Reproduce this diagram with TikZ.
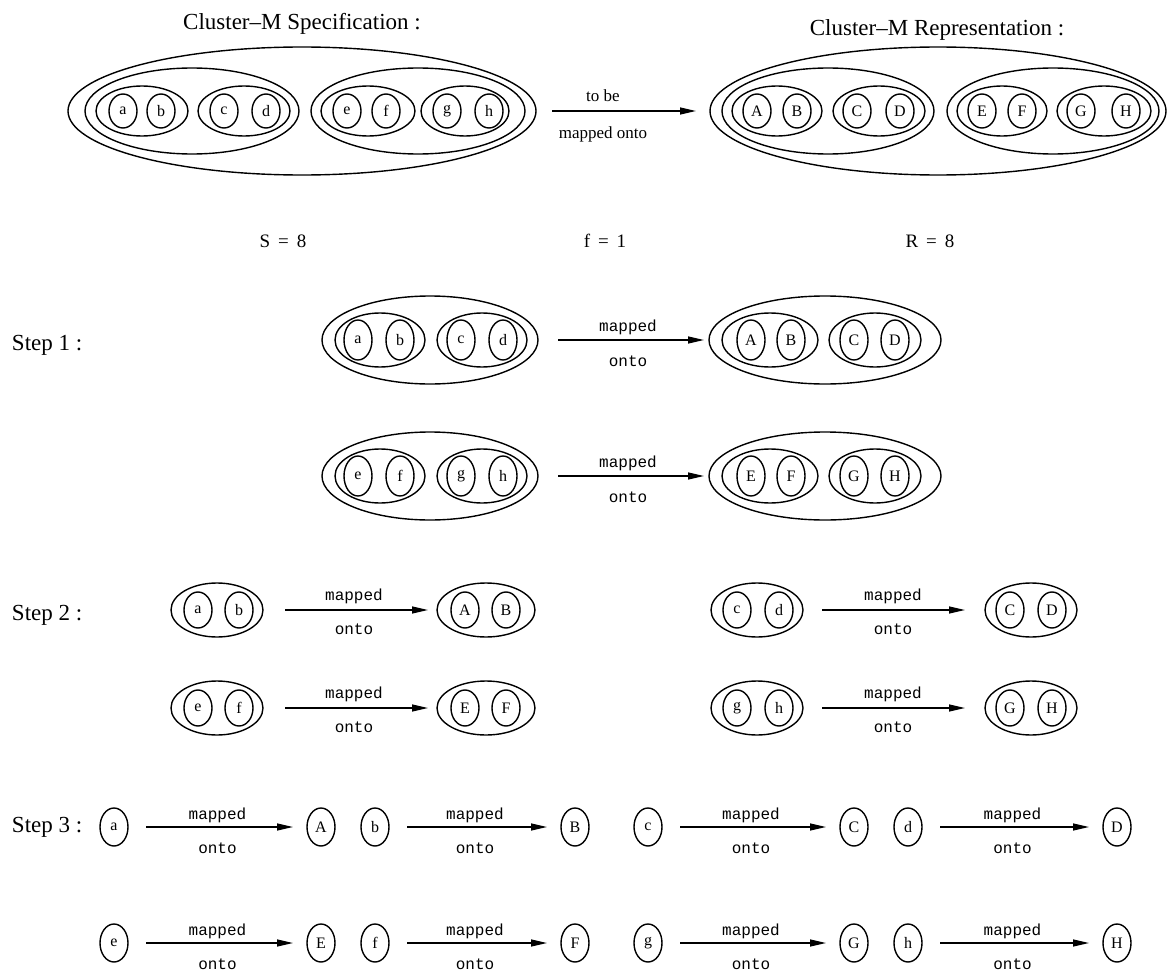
\documentclass[tikz,border=0pt]{standalone}
\usepackage{fontspec}
\setmainfont{Liberation Serif}
\newfontfamily\monofnt{Liberation Mono}
\usetikzlibrary{shapes.geometric,arrows.meta,calc}
\newcommand{\lw}[1]{\raisebox{-3pt}{#1}}
\begin{document}
\begin{tikzpicture}[x=1pt,y=-1pt,
  every node/.style={inner sep=0pt,outer sep=0pt},
  ell/.style={draw,ellipse,line width=1.4pt},
  leaf/.style={ell,font=\fontsize{16}{16}\selectfont},
  tleaf/.style={leaf,minimum width=28pt,minimum height=34pt},
  tpair/.style={ell,minimum width=92pt,minimum height=50pt},
  tquad/.style={ell,minimum width=214pt,minimum height=86pt},
  s1leaf/.style={leaf,minimum width=28pt,minimum height=40pt},
  s1pair/.style={ell,minimum width=90pt,minimum height=54pt},
  s2leaf/.style={leaf,minimum width=28pt,minimum height=36pt},
  s3leaf/.style={leaf,minimum width=28pt,minimum height=38pt},
  arr/.style={line width=1.4pt,-{Triangle[length=16pt,width=7pt]}},
  mlab/.style={font=\monofnt\fontsize{16}{16}\selectfont},
  slab/.style={font=\fontsize{17}{17}\selectfont},
  title/.style={font=\fontsize{23}{23}\selectfont},
  steplab/.style={font=\fontsize{23}{23}\selectfont,anchor=west},
  eqlab/.style={font=\fontsize{19}{19}\selectfont}]
\useasboundingbox (0,0) rectangle (1168,974);

% ---------- top: specification ----------
\node[title] (t1) at (302,24) {Cluster--M Specification :};
\node[ell,minimum width=468pt,minimum height=128pt] (Sout) at (302,111) {};
\node[tquad] (Sq1) at (192,111) {};
\node[tquad] (Sq2) at (418,111) {};
\node[tpair] (Sp1) at (142,111) {};
\node[tpair] (Sp2) at (244,111) {};
\node[tpair,minimum width=94pt] (Sp3) at (368,111) {};
\node[tpair,minimum width=88pt] (Sp4) at (465,111) {};
\foreach \n/\x in {a/123,b/161,c/224,d/266,e/347,f/386,g/447,h/489}
  \node[tleaf] (T\n) at (\x,111) {\lw{\n}};

% ---------- top: representation ----------
\node[title] (t2) at (937,30) {Cluster--M Representation :};
\node[ell,minimum width=456pt,minimum height=128pt] (Rout) at (938,111) {};
\node[tquad,minimum width=212pt] (Rq1) at (828,111) {};
\node[tquad,minimum width=212pt] (Rq2) at (1053,111) {};
\node[tpair,minimum width=90pt] (Rp1) at (777,111) {};
\node[tpair] (Rp2) at (879,111) {};
\node[tpair,minimum width=90pt] (Rp3) at (1002,111) {};
\node[tpair,minimum width=94pt] (Rp4) at (1104,111) {};
\foreach \n/\x in {A/757,B/797,C/857,D/900,E/982,F/1022,G/1081,H/1126}
  \node[tleaf] (T\n) at (\x,111) {\lw{\n}};

\draw[arr,shorten <=16pt,shorten >=14pt] (Sout) -- (Rout);
\node[slab] (tb) at (603,96) {to be};
\node[slab] (tmo) at (603,134) {mapped onto};

\node[eqlab] (eqS) at (283,241) {S\,\ =\ \,8};
\node[eqlab] (eqf) at (605,241) {f\,\ =\ \,1};
\node[eqlab] (eqR) at (930,241) {R\,\ =\ \,8};

% ---------- step 1 ----------
\node[steplab] (st1) at (12,345) {Step 1 :};
\foreach \r/\y/\p/\q/\u/\v/\P/\Q/\U/\V in {1/340/a/b/c/d/A/B/C/D, 2/476/e/f/g/h/E/F/G/H} {
  \node[ell,minimum width=216pt,minimum height=88pt] (L\r) at (430,\y) {};
  \node[s1pair] (L\r p) at (380,\y) {};
  \node[s1pair] (L\r q) at (482,\y) {};
  \node[s1leaf] (O\p) at (358,\y) {\lw{\p}};
  \node[s1leaf] (O\q) at (400,\y) {\lw{\q}};
  \node[s1leaf] (O\u) at (461,\y) {\lw{\u}};
  \node[s1leaf] (O\v) at (503,\y) {\lw{\v}};
  \node[ell,minimum width=232pt,minimum height=88pt] (M\r) at (825,\y) {};
  \node[s1pair,minimum width=96pt] (M\r p) at (770,\y) {};
  \node[s1pair,minimum width=92pt] (M\r q) at (875,\y) {};
  \node[s1leaf] (O\P) at (751,\y) {\lw{\P}};
  \node[s1leaf] (O\Q) at (791,\y) {\lw{\Q}};
  \node[s1leaf] (O\U) at (854,\y) {\lw{\U}};
  \node[s1leaf] (O\V) at (895,\y) {\lw{\V}};
  \draw[arr,shorten <=20pt,shorten >=5pt] (L\r) -- (M\r);
  \node[mlab] (m1\r) at (628,\y-13) {mapped};
  \node[mlab] (o1\r) at (628,\y+21) {onto};
}

% ---------- step 2 ----------
\node[steplab] (st2) at (12,615) {Step 2 :};
\foreach \r/\y/\p/\q/\P/\Q/\u/\v/\U/\V in {1/610/a/b/A/B/c/d/C/D, 2/708/e/f/E/F/g/h/G/H} {
  \node[ell,minimum width=92pt,minimum height=54pt] (X\r) at (217,\y) {};
  \node[s2leaf] (W\p) at (198,\y) {\lw{\p}};
  \node[s2leaf] (W\q) at (239,\y) {\lw{\q}};
  \node[ell,minimum width=98pt,minimum height=54pt] (Y\r) at (486,\y) {};
  \node[s2leaf] (W\P) at (465,\y) {\lw{\P}};
  \node[s2leaf] (W\Q) at (506,\y) {\lw{\Q}};
  \draw[arr,shorten <=22pt,shorten >=9pt] (X\r) -- (Y\r);
  \node[mlab] (m2\r) at (354,\y-14) {mapped};
  \node[mlab] (o2\r) at (354,\y+19) {onto};
  \node[ell,minimum width=92pt,minimum height=54pt] (Z\r) at (757,\y) {};
  \node[s2leaf] (W\u) at (737,\y) {\lw{\u}};
  \node[s2leaf] (W\v) at (779,\y) {\lw{\v}};
  \node[ell,minimum width=92pt,minimum height=54pt] (V\r) at (1031,\y) {};
  \node[s2leaf] (W\U) at (1010,\y) {\lw{\U}};
  \node[s2leaf] (W\V) at (1052,\y) {\lw{\V}};
  \draw[arr,shorten <=19pt,shorten >=20pt] (Z\r) -- (V\r);
  \node[mlab] (m3\r) at (893,\y-14) {mapped};
  \node[mlab] (o3\r) at (893,\y+19) {onto};
}

% ---------- step 3 ----------
\node[steplab] (st3) at (12,827) {Step 3 :};
\foreach \r/\y/\a/\b/\c/\d/\A/\B/\C/\D in {1/827/a/b/c/d/A/B/C/D, 2/943/e/f/g/h/E/F/G/H} {
  \node[s3leaf] (K\a) at (114,\y) {\lw{\a}};
  \node[s3leaf] (K\A) at (321,\y) {\lw{\A}};
  \node[s3leaf] (K\b) at (375,\y) {\lw{\b}};
  \node[s3leaf] (K\B) at (575,\y) {\lw{\B}};
  \node[s3leaf] (K\c) at (648,\y) {\lw{\c}};
  \node[s3leaf] (K\C) at (854,\y) {\lw{\C}};
  \node[s3leaf] (K\d) at (908,\y) {\lw{\d}};
  \node[s3leaf] (K\D) at (1117,\y) {\lw{\D}};
  \foreach \s/\t/\k in {\a/\A/1,\b/\B/2,\c/\C/3,\d/\D/4} {
    \draw[arr,shorten <=18pt,shorten >=14pt] (K\s) -- (K\t);
    \node[mlab] (mm\r\k) at ($(K\s)!0.5!(K\t)+(0,-12)$) {mapped};
    \node[mlab] (oo\r\k) at ($(K\s)!0.5!(K\t)+(0,21)$) {onto};
  }
}
\end{tikzpicture}
\end{document}
